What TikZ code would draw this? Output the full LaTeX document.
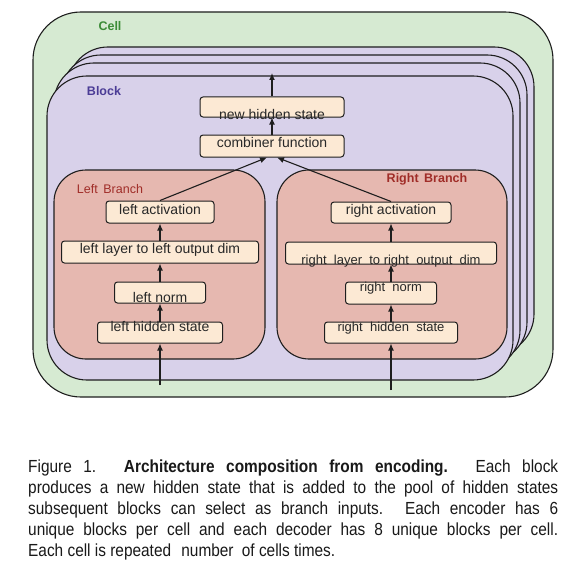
\documentclass[tikz,border=0pt]{standalone}
\usepackage{fontspec}
\setmainfont{Liberation Sans}
\usetikzlibrary{arrows.meta}
\definecolor{cellfill}{RGB}{214,234,210}
\definecolor{blockfill}{RGB}{216,209,234}
\definecolor{branchfill}{RGB}{230,184,176}
\definecolor{boxfill}{RGB}{252,233,212}
\definecolor{linec}{RGB}{30,30,30}
\definecolor{textc}{RGB}{40,40,40}
\definecolor{cellc}{RGB}{60,140,55}
\definecolor{blockc}{RGB}{75,60,150}
\definecolor{branchc}{RGB}{160,45,40}
\begin{document}
\begin{tikzpicture}[x=1pt,y=-1pt,
  frame/.style={draw=linec, line width=1.1pt},
  box/.style={draw=linec, fill=boxfill, rounded corners=3pt, line width=1pt, inner sep=0pt},
  bt/.style={font=\fontsize{14}{16}\selectfont, text=textc, inner sep=0pt},
  bts/.style={font=\fontsize{13}{15}\selectfont, text=textc, inner sep=0pt},
  arr/.style={-{Latex[length=7pt,width=6pt]}, line width=1.1pt, draw=linec},
  tag/.style={font=\fontsize{12.5}{14}\selectfont\bfseries, inner sep=0pt},
  captxt/.style={font=\fontsize{17.5}{20}\selectfont\addfontfeature{FakeStretch=0.88}, text=black!90, inner sep=0pt, anchor=base west}]
\useasboundingbox (0,0) rectangle (577,575);
\fill[white] (0,0) rectangle (577,575);
% cell
\draw[frame, fill=cellfill, rounded corners=48pt] (33,12) rectangle (553,397);
\node[tag, text=cellc] (celllbl) at (110,26) {Cell};
% stacked blocks
\draw[frame, fill=blockfill, rounded corners=40pt] (68,47) rectangle (534,354);
\draw[frame, fill=blockfill, rounded corners=40pt] (61,55) rectangle (527,362);
\draw[frame, fill=blockfill, rounded corners=40pt] (54,63) rectangle (520,370);
\draw[frame, fill=blockfill, rounded corners=40pt] (47,76) rectangle (513,380);
\node[tag, text=blockc] (blocklbl) at (104,91) {Block};
% branches
\draw[frame, fill=branchfill, rounded corners=32pt] (54,170) rectangle (265,359);
\draw[frame, fill=branchfill, rounded corners=32pt] (277,170) rectangle (507,359);
\node[tag, text=branchc, font=\fontsize{12.5}{14}\selectfont] (leftlbl) at (110,189) {Left\, Branch};
\node[tag, text=branchc] (rightlbl) at (427,179) {Right\, Branch};
% top boxes
\node[box, minimum width=144pt, minimum height=20pt, label={[bt, yshift=-7pt]center:new hidden state}] (nhs) at (272,107) {};
\node[box, minimum width=144pt, minimum height=22pt, label={[bt, yshift=4pt]center:combiner function}] (comb) at (272,146) {};
% left branch boxes
\node[box, minimum width=108pt, minimum height=22pt, label={[bt, yshift=3pt]center:left activation}] (la) at (160,212) {};
\node[box, minimum width=197pt, minimum height=22pt, label={[bt, yshift=2pt]center:left layer to left output dim}] (ll) at (160,252) {};
\node[box, minimum width=91pt, minimum height=21pt, label={[bt, yshift=-5pt]center:left norm}] (ln) at (160,292.5) {};
\node[box, minimum width=125pt, minimum height=21pt, label={[bt, yshift=6pt]center:left hidden state}] (lh) at (160,332.5) {};
% right branch boxes
\node[box, minimum width=120pt, minimum height=21pt, label={[bt, yshift=1.5pt]center:right activation}] (ra) at (391,212.5) {};
\node[box, minimum width=211pt, minimum height=22pt, label={[bts, yshift=-8pt]center:right\ \ layer\ \ to right\ \ output\ \ dim}] (rl) at (391,253) {};
\node[box, minimum width=91pt, minimum height=22pt, label={[bts, yshift=5pt]center:right\ \ norm}] (rn) at (391,293) {};
\node[box, minimum width=133pt, minimum height=21pt, label={[bts, yshift=4.5pt]center:right\ \ hidden\ \ state}] (rh) at (391,332.5) {};
% connectors
\coordinate (lin) at (160,385);
\coordinate (rin) at (391,390);
\coordinate (out) at (272,73);
\draw[arr] (lin) -- (lh.south);
\draw[arr] (lh.north) -- (ln.south);
\draw[arr] (ln.north) -- (ll.south);
\draw[arr] (ll.north) -- (la.south);
\draw[arr] (rin) -- (rh.south);
\draw[arr] (rh.north) -- (rn.south);
\draw[arr] (rn.north) -- (rl.south);
\draw[arr] (rl.north) -- (ra.south);
\draw[arr] (la.north) -- ([xshift=-5pt]comb.south);
\draw[arr] (ra.north) -- ([xshift=5pt]comb.south);
\draw[arr] (comb.north) -- (nhs.south);
\draw[arr] (nhs.north) -- (out);
% caption
\node[captxt] (c1) at (28,472) {\makebox[530pt][s]{Figure 1. \textbf{Architecture composition from encoding.} Each block}};
\node[captxt] (c2) at (28,493) {\makebox[530pt][s]{produces a new hidden state that is added to the pool of hidden states}};
\node[captxt] (c3) at (28,514) {\makebox[530pt][s]{subsequent blocks can select as branch inputs. Each encoder has 6}};
\node[captxt] (c4) at (28,535) {\makebox[530pt][s]{unique blocks per cell and each decoder has 8 unique blocks per cell.}};
\node[captxt] (c5) at (28,556) {Each cell is repeated\hspace{6pt} number\hspace{4pt} of cells times.};
\end{tikzpicture}
\end{document}
